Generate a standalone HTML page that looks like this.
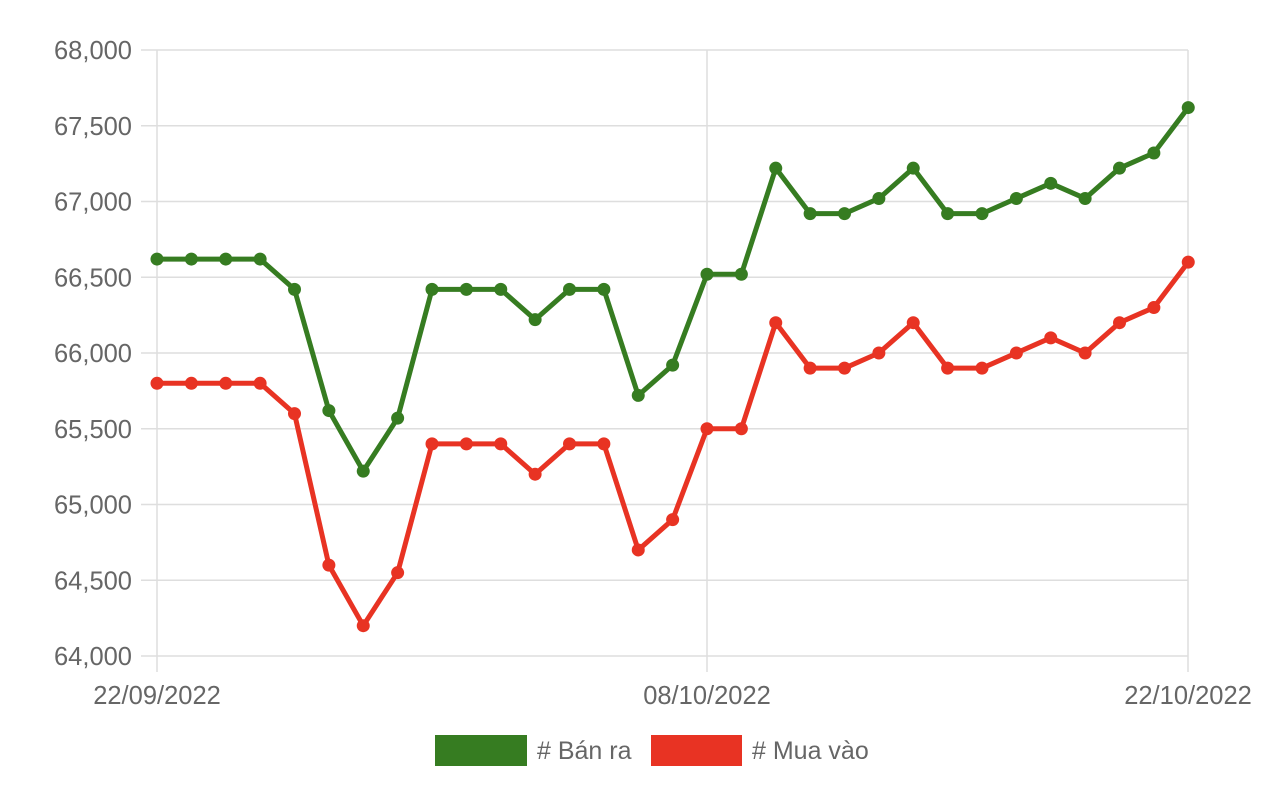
<!DOCTYPE html>
<html><head><meta charset="utf-8"><style>
html,body{margin:0;padding:0;background:#fff;}
svg{display:block;font-family:"Liberation Sans",Arial,sans-serif;}
</style></head><body>
<svg id="c" width="1280" height="791" viewBox="0 0 1280 791" xmlns="http://www.w3.org/2000/svg">
<rect width="1280" height="791" fill="#fff"/>
<g id="grid" stroke="#dedede" stroke-width="1.5"></g>
<g id="ylab" fill="#666" font-size="25.5" text-anchor="end"></g>
<g fill="#666" font-size="25.5" text-anchor="middle">
<text x="157" y="704">22/09/2022</text>
<text x="707" y="704">08/10/2022</text>
<text x="1188" y="704">22/10/2022</text>
</g>
<g id="series"></g>
<rect x="435" y="735" width="92" height="31" fill="#367c21"/>
<text x="537" y="759" fill="#666" font-size="25"># Bán ra</text>
<rect x="651" y="735" width="91" height="31" fill="#e83323"/>
<text x="752" y="759" fill="#666" font-size="25"># Mua vào</text>
</svg>
<script>
var NS="http://www.w3.org/2000/svg";
function el(p,t,a){var e=document.createElementNS(NS,t);for(var k in a)e.setAttribute(k,a[k]);p.appendChild(e);return e;}
function Y(v){return 50+(68000-v)*606/4000;}
function X(i){return 157+i*34.375;}
var g=document.getElementById('grid'),yl=document.getElementById('ylab');
for(var v=64000;v<=68000;v+=500){var y=Y(v);el(g,'line',{x1:141,x2:1188,y1:y,y2:y});
var t=el(yl,'text',{x:132,y:y+9});t.textContent=v.toLocaleString('en-US');}
[157,707,1188].forEach(function(x){el(g,'line',{x1:x,x2:x,y1:50,y2:672});});
var green=[66620,66620,66620,66620,66420,65620,65220,65570,66420,66420,66420,66220,66420,66420,65720,65920,66520,66520,67220,66920,66920,67020,67220,66920,66920,67020,67120,67020,67220,67320,67620];
var red=[65800,65800,65800,65800,65600,64600,64200,64550,65400,65400,65400,65200,65400,65400,64700,64900,65500,65500,66200,65900,65900,66000,66200,65900,65900,66000,66100,66000,66200,66300,66600];
var s=document.getElementById('series');
[[green,'#367c21'],[red,'#e83323']].forEach(function(d){
var pts=d[0].map(function(v,i){return X(i)+','+Y(v);}).join(' ');
el(s,'polyline',{points:pts,fill:'none',stroke:d[1],'stroke-width':5,'stroke-linejoin':'round'});
d[0].forEach(function(v,i){el(s,'circle',{cx:X(i),cy:Y(v),r:6.5,fill:d[1]});});
});
</script>
</body></html>
